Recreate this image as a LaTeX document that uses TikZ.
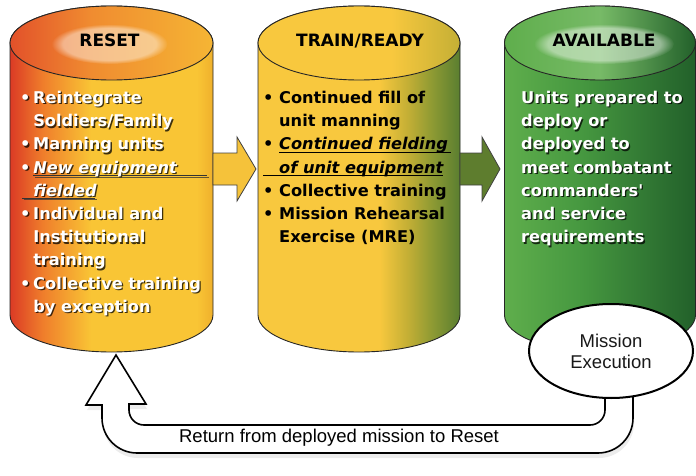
\documentclass[tikz,border=0pt]{standalone}
\usepackage{fontspec}
\usepackage{tikz}
\usetikzlibrary{positioning,shapes.geometric,shadows,backgrounds,fadings}

\newfontfamily\listfont{DejaVu Sans}[BoldFont={DejaVu Sans Bold},BoldItalicFont={DejaVu Sans Bold Oblique}]
\newfontfamily\labelfont{Liberation Sans}

\definecolor{resetred}{HTML}{DB3B25}
\definecolor{resetorange}{HTML}{EF7D2B}
\definecolor{resetyellow}{HTML}{F9C535}
\definecolor{resetgold}{HTML}{EFB02C}
\definecolor{lidred}{HTML}{E2512A}
\definecolor{lidorange}{HTML}{F08C30}
\definecolor{lidyellow}{HTML}{F5B534}
\definecolor{readyyellow}{HTML}{F8C83E}
\definecolor{readyolive}{HTML}{C4AF35}
\definecolor{readymoss}{HTML}{8E9A33}
\definecolor{readygreen}{HTML}{5A7E30}
\definecolor{availlight}{HTML}{5FAE4C}
\definecolor{availmid}{HTML}{469840}
\definecolor{availdark}{HTML}{22602A}
\definecolor{arrowyellow}{HTML}{F5C23A}
\definecolor{arrowgreen}{HTML}{5E7D2E}

\pgfdeclarehorizontalshading{resetbody}{100bp}{color(0bp)=(resetred); color(25bp)=(resetred); color(33bp)=(resetorange); color(45bp)=(resetyellow); color(71bp)=(resetyellow); color(75bp)=(resetgold); color(100bp)=(resetgold)}
\pgfdeclarehorizontalshading{resetlid}{100bp}{color(0bp)=(lidred); color(25bp)=(lidred); color(45bp)=(lidorange); color(75bp)=(lidyellow); color(100bp)=(lidyellow)}
\pgfdeclarehorizontalshading{readybody}{100bp}{color(0bp)=(readyyellow); color(25bp)=(readyyellow); color(55bp)=(readyyellow); color(62bp)=(readyolive); color(68bp)=(readymoss); color(75bp)=(readygreen); color(100bp)=(readygreen)}
\pgfdeclarehorizontalshading{readylid}{100bp}{color(0bp)=(readyyellow); color(25bp)=(readyyellow); color(58bp)=(readyyellow); color(75bp)=(readyolive); color(100bp)=(readyolive)}
\pgfdeclarehorizontalshading{availbody}{100bp}{color(0bp)=(availlight); color(25bp)=(availlight); color(45bp)=(availmid); color(75bp)=(availdark); color(100bp)=(availdark)}
\pgfdeclarehorizontalshading{availlid}{100bp}{color(0bp)=(availlight); color(25bp)=(availlight); color(50bp)=(availlight!85!white); color(75bp)=(availdark); color(100bp)=(availdark)}

\newcommand\resetitems{%
\textbullet\,Reintegrate\\
\hphantom{\textbullet\,}Soldiers/Family\\
\textbullet\,Manning units\\
\textbullet\,\rlap{\textcolor{black!80}{\rule[-3pt]{174pt}{0.9pt}}}\textit{New equipment}\\
\rlap{\hspace{2pt}\textcolor{black!80}{\rule[-2.5pt]{73pt}{0.9pt}}}\hphantom{\textbullet\,}\textit{fielded}\\
\textbullet\,Individual and\\
\hphantom{\textbullet\,}Institutional\\
\hphantom{\textbullet\,}training\\
\textbullet\,Collective training\\
\hphantom{\textbullet\,}by exception}

\newcommand\availitems{%
Units prepared to\\
deploy or\\
deployed to\\
meet combatant\\
commanders'\\
and service\\
requirements}

\begin{document}
\begin{tikzpicture}[x=1pt,y=1pt,
        tank/.style={rectangle, minimum height=346pt, inner sep=0pt, outer sep=0pt},
        tankbody/.style={draw=black!85, line width=0.9pt, shade},
        tanklid/.style={draw=black!85, line width=0.9pt, shade},
        glow/.style={fill=white, opacity=0.45, path fading=circle with fuzzy edge 20 percent},
        tanktitle/.style={font={\listfont\bfseries\fontsize{17pt}{20pt}\selectfont}, inner sep=0pt, anchor=base},
        tanklist/.style={font={\listfont\bfseries\fontsize{16.2pt}{23.2pt}\selectfont}, align=left,
            inner sep=0pt, anchor=north west},
        listshadow/.style={tanklist, text=black, text opacity=0.75},
        blockarrow/.style={draw=black!75, line width=0.8pt},
        returnarrow/.style={draw=black, line width=1.6pt, fill=white,
            drop shadow={opacity=0.15, shadow xshift=1pt, shadow yshift=-5pt}},
        missionnode/.style={ellipse, draw=black, line width=2pt, fill=white, minimum width=164pt,
            minimum height=94pt, inner sep=0pt, align=center, text=black!90,
            font={\labelfont\fontsize{18.5pt}{21pt}\selectfont}},
        returnlabel/.style={font={\labelfont\fontsize{18.5pt}{21pt}\selectfont}, inner sep=0pt}
    ]
    \useasboundingbox (0,0) rectangle (696,475);
    \clip (0,0) rectangle (696,475);

    % Tanks
    \node[tank, minimum width=203pt] (reset) at (111.5,296) {};
    \node[tank, minimum width=202pt, right=45pt of reset] (train) {};
    \node[tank, minimum width=191pt, right=44.5pt of train] (available) {};

    \path[tankbody, shading=resetbody] ([yshift=-37pt]reset.north west) -- ([yshift=37pt]reset.south west)
        arc[start angle=180, end angle=360, x radius=101.5pt, y radius=37pt]
        -- ([yshift=-37pt]reset.north east) arc[start angle=0, end angle=180, x radius=101.5pt, y radius=37pt] -- cycle;
    \path[tankbody, shading=readybody] ([yshift=-37pt]train.north west) -- ([yshift=37pt]train.south west)
        arc[start angle=180, end angle=360, x radius=101pt, y radius=37pt]
        -- ([yshift=-37pt]train.north east) arc[start angle=0, end angle=180, x radius=101pt, y radius=37pt] -- cycle;
    \path[tankbody, shading=availbody] ([yshift=-37pt]available.north west) -- ([yshift=37pt]available.south west)
        arc[start angle=180, end angle=360, x radius=95.5pt, y radius=37pt]
        -- ([yshift=-37pt]available.north east) arc[start angle=0, end angle=180, x radius=95.5pt, y radius=37pt] -- cycle;

    % Lids
    \path[tanklid, shading=resetlid] ([yshift=-37pt]reset.north) ellipse [x radius=101.5pt, y radius=37pt];
    \path[tanklid, shading=readylid] ([yshift=-37pt]train.north) ellipse [x radius=101pt, y radius=37pt];
    \path[tanklid, shading=availlid] ([yshift=-37pt]available.north) ellipse [x radius=95.5pt, y radius=37pt];
    \path[glow] ([xshift=-2pt,yshift=-38pt]reset.north) ellipse [x radius=58pt, y radius=20pt];
    \path[glow] ([xshift=4pt,yshift=-38pt]available.north) ellipse [x radius=70pt, y radius=20pt];

    % Titles
    \node[tanktitle] (resettitle) at ([xshift=-2pt,yshift=-41pt]reset.north) {RESET};
    \node[tanktitle] (traintitle) at ([xshift=1pt,yshift=-41pt]train.north) {TRAIN/READY};
    \node[tanktitle] (availtitle) at ([xshift=4pt,yshift=-41pt]available.north) {AVAILABLE};

    % Lists
    \node[listshadow] (resetshadow) at (21.3,382.7) {\resetitems};
    \node[tanklist, text=white] (resetlist) at (20,384) {\resetitems};
    \node[tanklist, text=black] (trainlist) at (263,384) {%
        \textbullet\ Continued fill of\\
        \hphantom{\textbullet\ }unit manning\\
        \textbullet\ \rlap{\rule[-2.5pt]{172pt}{0.9pt}}\textit{Continued fielding}\\
        \rlap{\rule[-2.5pt]{180pt}{0.9pt}}\hphantom{\textbullet\ }\textit{of unit equipment}\\
        \textbullet\ Collective training\\
        \textbullet\ Mission Rehearsal\\
        \hphantom{\textbullet\ }Exercise (MRE)};
    \node[listshadow] (availshadow) at (522.3,382.7) {\availitems};
    \node[tanklist, text=white] (availlist) at (521,384) {\availitems};

    % Arrows between tanks
    \draw[blockarrow, fill=arrowyellow] ([yshift=26pt]reset.east) -- ++(24,0) -- ++(0,16)
        -- ([xshift=-2pt,yshift=10pt]train.west) -- ++(-19,-32) -- ++(0,16) -- ++(-24,0) -- cycle;
    \draw[blockarrow, fill=arrowgreen] ([yshift=26pt]train.east) -- ++(22,0) -- ++(0,16)
        -- ([xshift=-4.5pt,yshift=10pt]available.west) -- ++(-18,-32) -- ++(0,16) -- ++(-22,0) -- cycle;

    % Mission and return
    \node[missionnode] (mission) at (611,124) {Mission\\Execution};
    \begin{scope}[on background layer]
    \draw[returnarrow] ([xshift=22pt,yshift=6pt]mission.south) -- ++(0,-25)
        arc[start angle=0, end angle=-90, radius=35pt] -- ++(-461,0)
        arc[start angle=270, end angle=180, radius=35pt] -- ++(0,13) -- ++(-16,0)
        -- ([xshift=4.5pt,yshift=-3pt]reset.south) -- ++(30,-49) -- ++(-17,0) -- ++(0,-6)
        arc[start angle=180, end angle=270, radius=15pt] -- ++(446,0)
        arc[start angle=270, end angle=360, radius=15pt] -- ([xshift=-6pt,yshift=6pt]mission.south) -- cycle;
    \end{scope}
    \node[returnlabel] (returntext) at (339,37) {Return from deployed mission to Reset};
\end{tikzpicture}
\end{document}
